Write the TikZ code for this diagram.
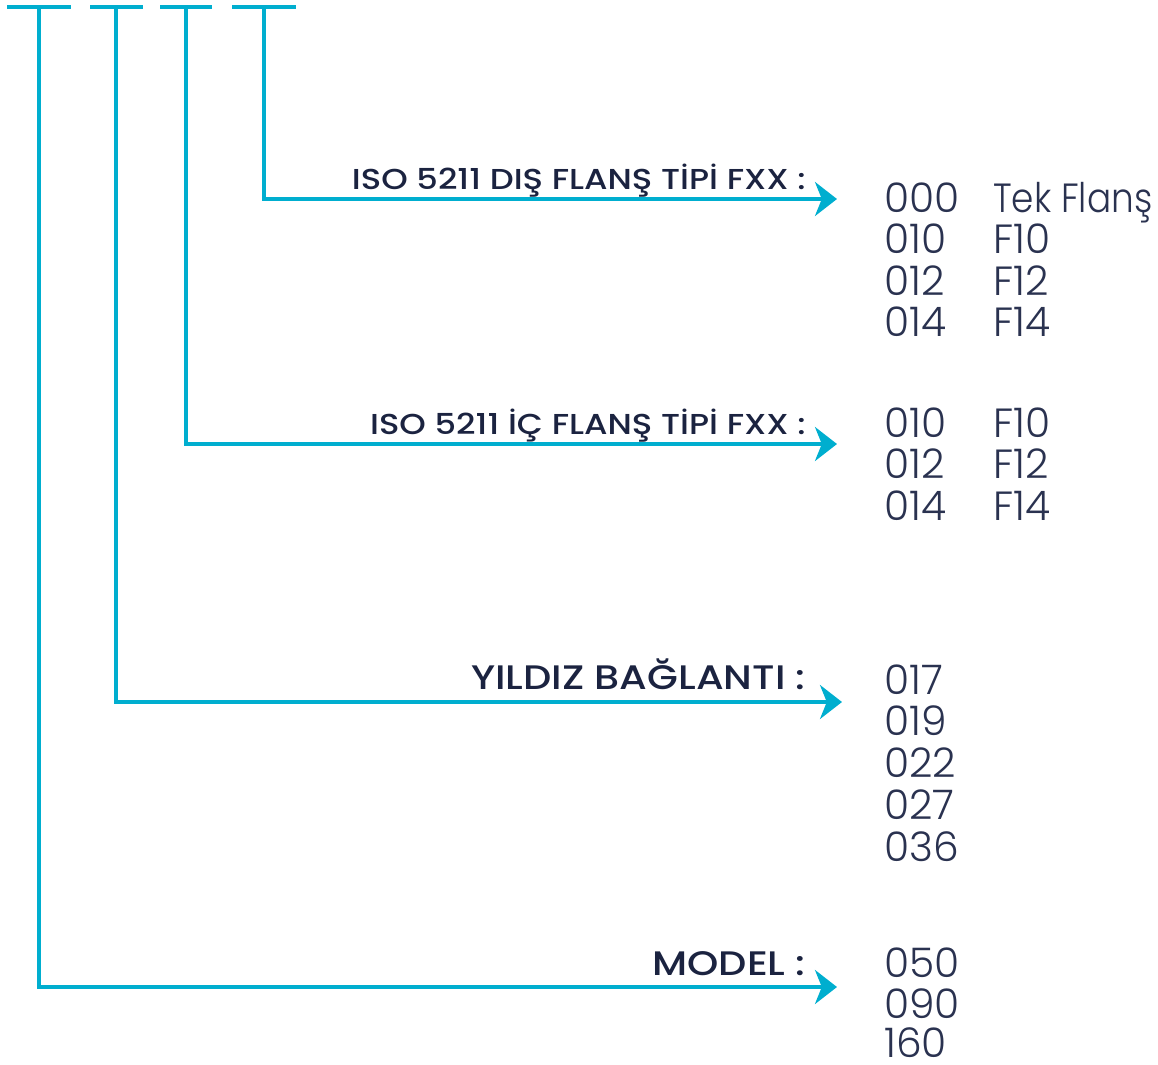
\documentclass[tikz,border=0pt]{standalone}
\usepackage{fontspec}
\setmainfont{Poppins}
\newfontfamily\labelfont{Poppins Medium}[FakeStretch=1.17]
\newfontfamily\valuefont{Poppins Light}
\newfontfamily\narrowvaluefont{Poppins Light}[FakeStretch=0.88]
\usetikzlibrary{arrows.meta}
\definecolor{codecyan}{RGB}{0,174,207}
\definecolor{labelnavy}{RGB}{27,35,64}
\definecolor{valuenavy}{RGB}{42,50,80}
\tikzset{
  codeline/.style={codecyan,line width=2.6pt},
  codearrow/.style={codeline,-{Stealth[length=0.55cm,width=0.85cm,inset=0.17cm]}},
  grouplabel/.style={anchor=base east,inner sep=0pt,text=labelnavy},
  smalllabel/.style={grouplabel,font=\labelfont\fontsize{20.5}{24}\selectfont},
  biglabel/.style={grouplabel,font=\labelfont\fontsize{24.2}{28}\selectfont},
  value/.style={anchor=base west,inner sep=0pt,text=valuenavy,font=\valuefont\fontsize{29}{32}\selectfont}
}
\begin{document}
\begin{tikzpicture}[x=0.025cm,y=-0.025cm]
\useasboundingbox (0,0) rectangle (1158,1065);
\coordinate (model-l) at (7,7);
\coordinate (model-r) at (71,7);
\coordinate (model-top) at (39,7);
\coordinate (model-tip) at (837,987);
\coordinate (star-l) at (90,7);
\coordinate (star-r) at (143,7);
\coordinate (star-top) at (116,7);
\coordinate (star-tip) at (842,702);
\coordinate (inner-l) at (160,7);
\coordinate (inner-r) at (212,7);
\coordinate (inner-top) at (186,7);
\coordinate (inner-tip) at (837,444);
\coordinate (outer-l) at (232,7);
\coordinate (outer-r) at (296,7);
\coordinate (outer-top) at (264,7);
\coordinate (outer-tip) at (837,199);
\draw[codeline] (model-l) -- (model-r);
\draw[codeline] (star-l) -- (star-r);
\draw[codeline] (inner-l) -- (inner-r);
\draw[codeline] (outer-l) -- (outer-r);
\draw[codearrow] (model-top) |- (model-tip);
\draw[codearrow] (star-top) |- (star-tip);
\draw[codearrow] (inner-top) |- (inner-tip);
\draw[codearrow] (outer-top) |- (outer-tip);
\node[smalllabel] (outer-label) at (806,189) {ISO 5211 DIŞ FLANŞ TİPİ FXX :};
\node[smalllabel] (inner-label) at (806,434) {ISO 5211 İÇ FLANŞ TİPİ FXX :};
\node[biglabel] (star-label) at (806,689) {YILDIZ BAĞLANTI :};
\node[biglabel] (model-label) at (806,975) {MODEL :};
\node[value] (outer-c1) at (884,212) {000};
\node[value,font=\narrowvaluefont\fontsize{29}{32}\selectfont] (outer-n1) at (993,212) {Tek Flanş};
\node[value] (outer-c2) at (884,253) {010};
\node[value] (outer-n2) at (993,253) {F10};
\node[value] (outer-c3) at (884,295) {012};
\node[value] (outer-n3) at (993,295) {F12};
\node[value] (outer-c4) at (884,336) {014};
\node[value] (outer-n4) at (993,336) {F14};
\node[value] (inner-c1) at (884,437) {010};
\node[value] (inner-n1) at (993,437) {F10};
\node[value] (inner-c2) at (884,478) {012};
\node[value] (inner-n2) at (993,478) {F12};
\node[value] (inner-c3) at (884,520) {014};
\node[value] (inner-n3) at (993,520) {F14};
\node[value] (star-c1) at (884,694) {017};
\node[value] (star-c2) at (884,735) {019};
\node[value] (star-c3) at (884,777) {022};
\node[value] (star-c4) at (884,819) {027};
\node[value] (star-c5) at (884,861) {036};
\node[value] (model-c1) at (884,977) {050};
\node[value] (model-c2) at (884,1018) {090};
\node[value] (model-c3) at (884,1057) {160};
\end{tikzpicture}
\end{document}
